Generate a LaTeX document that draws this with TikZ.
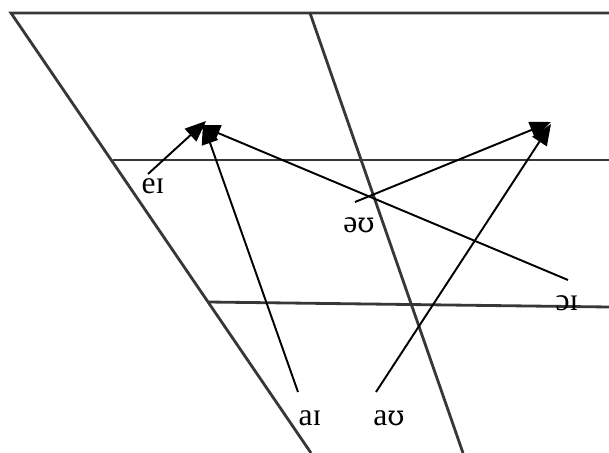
\documentclass[tikz,border=0pt]{standalone}
\usepackage{fontspec}
\setmainfont{Liberation Serif}
\newfontfamily\upsfont[Scale=0.88]{DejaVu Serif}
\usetikzlibrary{arrows.meta}
\definecolor{chartGray}{RGB}{55,55,55}
\newcommand{\ups}{{\upsfont ʊ}}
\tikzset{
  chartline/.style={line width=1.6pt, chartGray},
  glide/.style={line width=1.1pt, black, -{Triangle[length=0.42cm, width=0.34cm]}},
  vlabel/.style={anchor=base, inner sep=0pt, font=\fontsize{18}{20}\selectfont}
}
\begin{document}
\begin{tikzpicture}[x=0.02cm, y=-0.02cm]
\useasboundingbox (0,0) rectangle (609,453);
% chart frame: top edge, front slope, central slope
\draw[chartline] (609,13) -- (11,13) -- (311,453);
\draw[chartline] (310,13) -- (463,453);
% close-mid and open-mid rows
\draw[chartline] (113,160) -- (609,160);
\draw[chartline] (208,302) -- (609,307);
% diphthong labels (baselines)
\node[vlabel] (ei) at (153,193) {eɪ};
\node[vlabel] (ou) at (359,232) {ə\ups};
\node[vlabel] (oi) at (567,310) {ɔɪ};
\node[vlabel] (ai) at (310,425) {aɪ};
\node[vlabel] (au) at (389,425) {a\ups};
% start and end points of the glides
\coordinate (ei-s) at (148,174);  \coordinate (ei-t) at (206,121);
\coordinate (ai-s) at (298,392);  \coordinate (ai-t) at (203,123);
\coordinate (oi-s) at (568,280);  \coordinate (oi-t) at (199,125);
\coordinate (ou-s) at (355,202);  \coordinate (ou-t) at (551,122);
\coordinate (au-s) at (376,392);  \coordinate (au-t) at (551,124);
% glides
\draw[glide] (ei-s) -- (ei-t);
\draw[glide] (ai-s) -- (ai-t);
\draw[glide] (oi-s) -- (oi-t);
\draw[glide] (ou-s) -- (ou-t);
\draw[glide] (au-s) -- (au-t);
\end{tikzpicture}
\end{document}
